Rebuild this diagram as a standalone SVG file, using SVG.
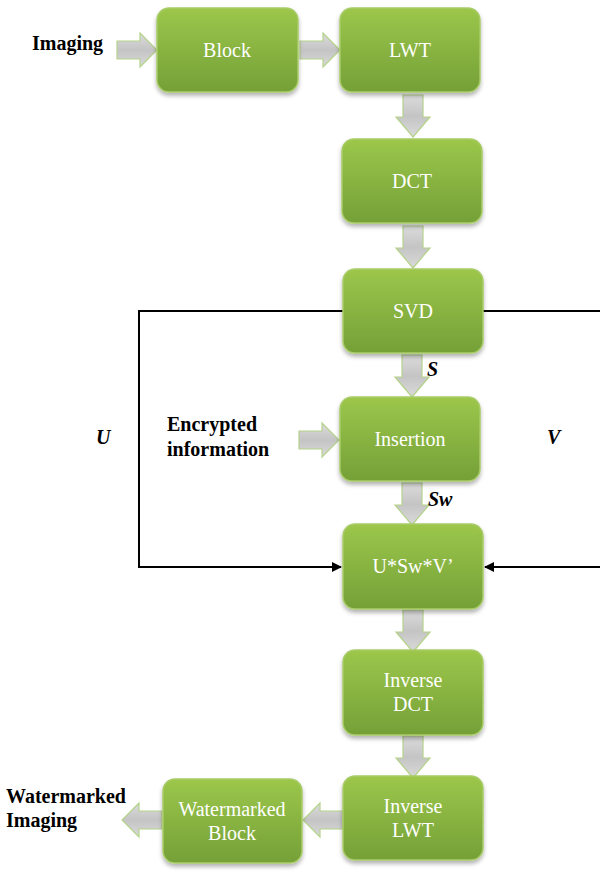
<svg xmlns="http://www.w3.org/2000/svg" width="600" height="871" viewBox="0 0 600 871" font-family="Liberation Serif, DejaVu Serif, serif">
<style>
.node rect{fill:url(#g);stroke:#a9cc6a;stroke-width:1.5;filter:url(#sh)}
.node text{font-size:20px;fill:#ffffff;text-anchor:middle}
.lbl{font-size:20px;font-weight:bold;fill:#000}
.it{font-style:italic}
.ba{fill:url(#ga);stroke:#b5d38a;stroke-width:1.2}
.ln{fill:none;stroke:#000;stroke-width:2}
</style>
<defs>
<linearGradient id="g" x1="0" y1="0" x2="0" y2="1">
<stop offset="0" stop-color="#9cc74b"/>
<stop offset="1" stop-color="#74a038"/>
</linearGradient>
<linearGradient id="ga" x1="0" y1="0" x2="0" y2="1">
<stop offset="0" stop-color="#dcdcdc"/>
<stop offset="0.5" stop-color="#c4c4c4"/>
<stop offset="1" stop-color="#dadada"/>
</linearGradient>
<filter id="sh" x="-10%" y="-10%" width="120%" height="130%">
<feDropShadow dx="0" dy="3" stdDeviation="2" flood-color="#000" flood-opacity="0.3"/>
</filter>
<marker id="ah" markerWidth="10" markerHeight="10" refX="9" refY="5" orient="auto" markerUnits="userSpaceOnUse">
<path d="M0,0 L10,5 L0,10 z" fill="#000"/>
</marker>
<path id="ar" d="M0,-9 L23,-9 L23,-17 L40,0 L23,17 L23,9 L0,9 z"/>
<path id="ad" d="M-10,0 L10,0 L10,22 L17,22 L0,42 L-17,22 L-10,22 z"/>
</defs>

<g id="connectors">
<use href="#ar" class="ba" x="117" y="50"/>
<use href="#ar" class="ba" x="300" y="50"/>
<use href="#ad" class="ba" x="413" y="95"/>
<use href="#ad" class="ba" x="413" y="226"/>
<use href="#ad" class="ba" x="412" y="355"/>
<use href="#ar" class="ba" x="299" y="440"/>
<use href="#ad" class="ba" x="412" y="483"/>
<use href="#ad" class="ba" x="413" y="610"/>
<use href="#ad" class="ba" x="413" y="736"/>
<use href="#ar" class="ba" transform="translate(343,820) scale(-1,1)"/>
<use href="#ar" class="ba" transform="translate(162,820) scale(-1,1)"/>
<polyline class="ln" points="343,311 139,311 139,567 341,567" marker-end="url(#ah)"/>
<polyline class="ln" points="483,311 601,311 601,567 485,567" marker-end="url(#ah)"/>
</g>

<g id="block" class="node"><rect x="157" y="8" width="141" height="84" rx="12"/><text x="227" y="57">Block</text></g>
<g id="lwt" class="node"><rect x="340" y="8" width="140" height="84" rx="12"/><text x="410" y="57">LWT</text></g>
<g id="dct" class="node"><rect x="342" y="139" width="140" height="84" rx="12"/><text x="412" y="188">DCT</text></g>
<g id="svd" class="node"><rect x="343" y="269" width="140" height="84" rx="12"/><text x="413" y="318">SVD</text></g>
<g id="insertion" class="node"><rect x="340" y="397" width="140" height="84" rx="12"/><text x="410" y="446">Insertion</text></g>
<g id="usv" class="node"><rect x="343" y="524" width="140" height="85" rx="12"/><text x="413" y="573">U*Sw*V’</text></g>
<g id="idct" class="node"><rect x="343" y="650" width="140" height="85" rx="12"/><text x="413" y="687">Inverse</text><text x="413" y="711">DCT</text></g>
<g id="ilwt" class="node"><rect x="343" y="776" width="140" height="84" rx="12"/><text x="413" y="813">Inverse</text><text x="413" y="837">LWT</text></g>
<g id="wblock" class="node"><rect x="163" y="779" width="139" height="84" rx="12"/><text x="232" y="816">Watermarked</text><text x="232" y="840">Block</text></g>

<g id="labels">
<text class="lbl" x="32" y="50">Imaging</text>
<text class="lbl it" x="96" y="444">U</text>
<text class="lbl it" x="547" y="444">V</text>
<text class="lbl it" x="427" y="376">S</text>
<text class="lbl it" x="428" y="506">Sw</text>
<text class="lbl" x="167" y="431">Encrypted</text>
<text class="lbl" x="167" y="456">information</text>
<text class="lbl" x="6" y="803">Watermarked</text>
<text class="lbl" x="6" y="827">Imaging</text>
</g>
</svg>
